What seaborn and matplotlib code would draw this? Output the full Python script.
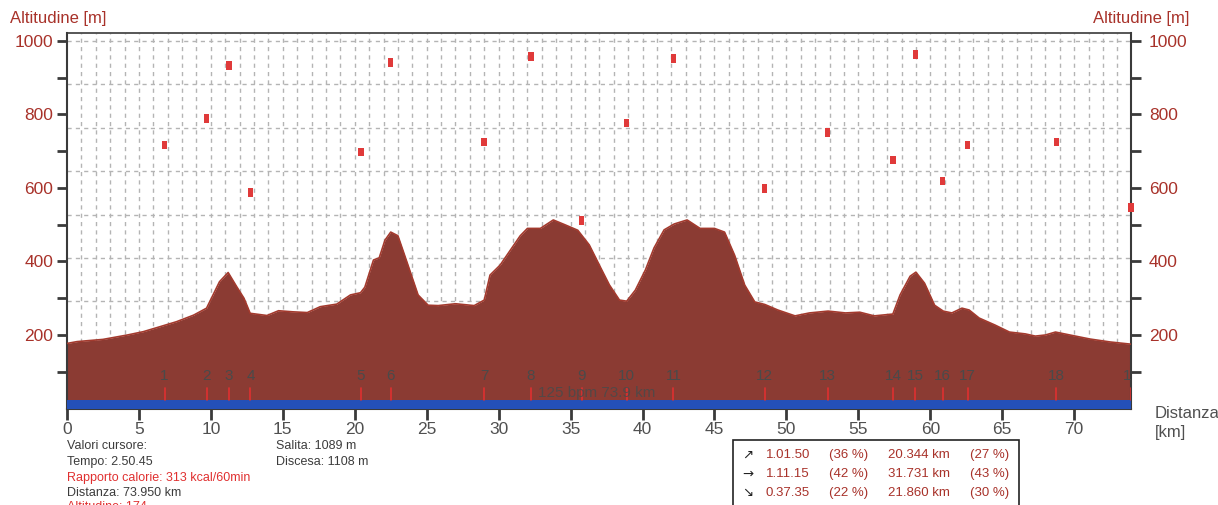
import matplotlib
matplotlib.use("Agg")
import matplotlib.pyplot as plt
import seaborn as sns
import numpy as np
import pandas as pd

# ---------------- data ----------------
profile_km = [0.0, 0.7, 2.5, 4.2, 5.3, 6.5, 7.6, 8.8, 9.7, 10.2, 10.6, 11.2, 11.8, 12.3, 12.73,
              13.9, 14.7, 15.7, 16.7, 17.6, 18.75, 19.7, 20.4, 20.7, 21.3, 21.7, 22.1, 22.5, 23.0,
              23.7, 24.4, 25.1, 25.8, 27.0, 28.3, 29.0, 29.4, 30.1, 30.8, 31.5, 32.0, 32.9, 33.8,
              34.6, 35.5, 36.3, 37.0, 37.7, 38.4, 38.9, 39.5, 40.2, 40.8, 41.5, 42.2, 43.1, 44.0,
              45.0, 45.7, 46.4, 47.1, 47.8, 48.5, 49.4, 50.6, 51.6, 52.9, 54.1, 55.1, 56.1, 57.4,
              57.9, 58.6, 59.0, 59.6, 60.3, 60.9, 61.5, 62.2, 62.7, 63.4, 64.5, 65.5, 66.6, 67.3,
              68.0, 68.7, 69.7, 71.1, 72.5, 73.95]
profile_alt = [177, 182, 188, 200, 209, 223, 236, 254, 273, 313, 345, 370, 331, 300, 259,
               253, 266, 263, 261, 277, 284, 309, 315, 330, 404, 410, 458, 480, 470,
               390, 309, 281, 280, 285, 280, 295, 363, 390, 430, 470, 490, 490, 513,
               500, 485, 445, 390, 336, 295, 292, 322, 377, 437, 486, 502, 513, 490,
               490, 480, 417, 336, 290, 283, 268, 252, 260, 265, 260, 262, 252, 257,
               309, 360, 371, 341, 281, 265, 260, 273, 268, 246, 227, 208, 203, 197,
               200, 208, 200, 189, 181, 175]

waypoint_km = [6.78, 9.72, 11.25, 12.75, 20.44, 22.5, 28.98, 32.24, 35.78, 38.89, 42.15,
               48.49, 52.87, 57.4, 58.96, 60.87, 62.59, 68.75, 73.95]
waypoint_labels = [str(i) for i in range(1, 20)]
marker_alt = [717, 790, 934, 588, 698, 942, 725, 958, 511, 777, 953,
              598, 752, 676, 964, 619, 717, 725, 547]

y_ticks_major = [200, 400, 600, 800, 1000]
y_ticks_minor = [100, 300, 500, 700, 900]
x_ticks = list(range(0, 75, 5))

info_left = ["Valori cursore:", "Tempo: 2.50.45", "Rapporto calorie: 313 kcal/60min",
             "Distanza: 73.950 km", "Altitudine: 174"]
info_left_red = [False, False, True, False, True]
info_mid = ["Salita: 1089 m", "Discesa: 1108 m"]
box_arrows = ["\u2197", "\u2192", "\u2198"]
box_times = ["1.01.50", "1.11.15", "0.37.35"]
box_time_pct = ["(36 %)", "(42 %)", "(22 %)"]
box_dist = ["20.344 km", "31.731 km", "21.860 km"]
box_dist_pct = ["(27 %)", "(43 %)", "(30 %)"]

# ---------------- style ----------------
sns.set_theme(style="white")
plt.rcParams['font.family'] = ['Liberation Sans', 'DejaVu Sans']

W, H = 1218, 505
fig = plt.figure(figsize=(W / 100, H / 100), dpi=100)
x0, x1 = 67, 1131
y0, y1 = 408.5, 32.7
ax = fig.add_axes([x0 / W, (H - y0) / H, (x1 - x0) / W, (y0 - y1) / H])

XMAX = 73.95
YMAX = 1022.5
ax.set_xlim(0, XMAX)
ax.set_ylim(0, YMAX)

grid_col = "#b4b4b4"
for k in range(1, 74):
    ax.axvline(k, color=grid_col, lw=1, ls=(0, (3, 3)), zorder=0)
for k in range(0, 9):
    ax.axhline(1000 - k * 118.1, color=grid_col, lw=1, ls=(0, (3, 3)), zorder=0)

brown = "#8b3b33"
df = pd.DataFrame({"km": profile_km, "alt": profile_alt})
ax.fill_between(df["km"], 0, df["alt"], color=brown, lw=0, zorder=2)
sns.lineplot(data=df, x="km", y="alt", ax=ax, color="#a33a2e", lw=1.2, zorder=3,
             legend=False)

ax.axhspan(0, 22, color="#2450b8", zorder=4, lw=0)

for km, lab in zip(waypoint_km, waypoint_labels):
    ax.plot([km, km], [22, 56], color="#e03030", lw=1.2, zorder=5)
    ax.text(km, 88, lab, color="#4a4a4a", fontsize=11, ha="center", va="center",
            zorder=5, clip_on=True)

ax.text(36.8, 42, "125 bpm 73.9 km", color="#4a4a4a", alpha=0.85, fontsize=11,
        ha="center", va="center", zorder=6)

rect = [(-0.3, -0.5), (0.3, -0.5), (0.3, 0.5), (-0.3, 0.5), (-0.3, -0.5)]
mdf = pd.DataFrame({"km": waypoint_km, "alt": marker_alt})
sns.scatterplot(data=mdf, x="km", y="alt", ax=ax, marker=rect, s=40, color="#e03a3a",
                edgecolor="none", linewidth=0, zorder=6, legend=False, clip_on=False)

ax.set_xlabel("")
ax.set_ylabel("")
for s in ["left", "top", "right", "bottom"]:
    ax.spines[s].set_color("#3a3a3a")
    ax.spines[s].set_linewidth(1.5)
ax.spines["top"].set_linewidth(1.2)

label_red = "#a8322a"
ax.set_yticks(y_ticks_major)
ax.set_yticks(y_ticks_minor, minor=True)
ax.set_yticklabels([str(v) for v in y_ticks_major], color=label_red, fontsize=12.5)
ax.tick_params(axis="y", which="major", left=True, length=7, width=2, color="#3a3a3a",
               pad=3, direction="out")
ax.tick_params(axis="y", which="minor", left=True, length=7, width=2, color="#3a3a3a",
               direction="out")

ax.set_xticks(x_ticks)
ax.set_xticklabels([str(v) for v in x_ticks], color="#505050", fontsize=12.5)
ax.tick_params(axis="x", which="major", bottom=True, length=8, width=2, color="#3a3a3a",
               pad=2, direction="out")

ax2 = ax.twinx()
ax2.set_ylim(0, YMAX)
ax2.set_yticks(y_ticks_major)
ax2.set_yticks(y_ticks_minor, minor=True)
ax2.set_yticklabels([str(v) for v in y_ticks_major], color=label_red, fontsize=12.5)
ax2.tick_params(axis="y", which="both", right=True, length=7, width=2, color="#3a3a3a",
                pad=6, direction="out")
for s in ["left", "top", "right", "bottom"]:
    ax2.spines[s].set_visible(False)
ax2.grid(False)

fig.text(10 / W, 1 - 18 / H, "Altitudine [m]", color=label_red, fontsize=12,
         ha="left", va="center")
fig.text(1189 / W, 1 - 18 / H, "Altitudine [m]", color=label_red, fontsize=12,
         ha="right", va="center")
fig.text(1155 / W, 1 - 413 / H, "Distanza", color="#505050", fontsize=12,
         ha="left", va="center")
fig.text(1155 / W, 1 - 432 / H, "[km]", color="#505050", fontsize=12,
         ha="left", va="center")

ys = [446, 462, 478, 493, 507]
for t, red, y in zip(info_left, info_left_red, ys):
    fig.text(67 / W, 1 - y / H, t, color="#e03030" if red else "#3c3c3c",
             fontsize=9, ha="left", va="center")
for t, y in zip(info_mid, ys[:2]):
    fig.text(276 / W, 1 - y / H, t, color="#3c3c3c", fontsize=9, ha="left", va="center")

box = plt.Rectangle((733 / W, (H - 520) / H), (1019 - 733) / W, (520 - 440) / H,
                    transform=fig.transFigure, fill=False, edgecolor="#222222", lw=1.2)
fig.patches.append(box)
rows = [455, 474, 493]
for a, t, tp, d, dp, y in zip(box_arrows, box_times, box_time_pct, box_dist, box_dist_pct, rows):
    yy = 1 - y / H
    fig.text(742 / W, yy, a, color="#222222", fontsize=9.5, ha="left", va="center",
             family=["DejaVu Sans"])
    fig.text(766 / W, yy, t, color="#a8322a", fontsize=9.5, ha="left", va="center")
    fig.text(829 / W, yy, tp, color="#a8322a", fontsize=9.5, ha="left", va="center")
    fig.text(888 / W, yy, d, color="#a8322a", fontsize=9.5, ha="left", va="center")
    fig.text(970 / W, yy, dp, color="#a8322a", fontsize=9.5, ha="left", va="center")

fig.savefig("out.png", dpi=100)
